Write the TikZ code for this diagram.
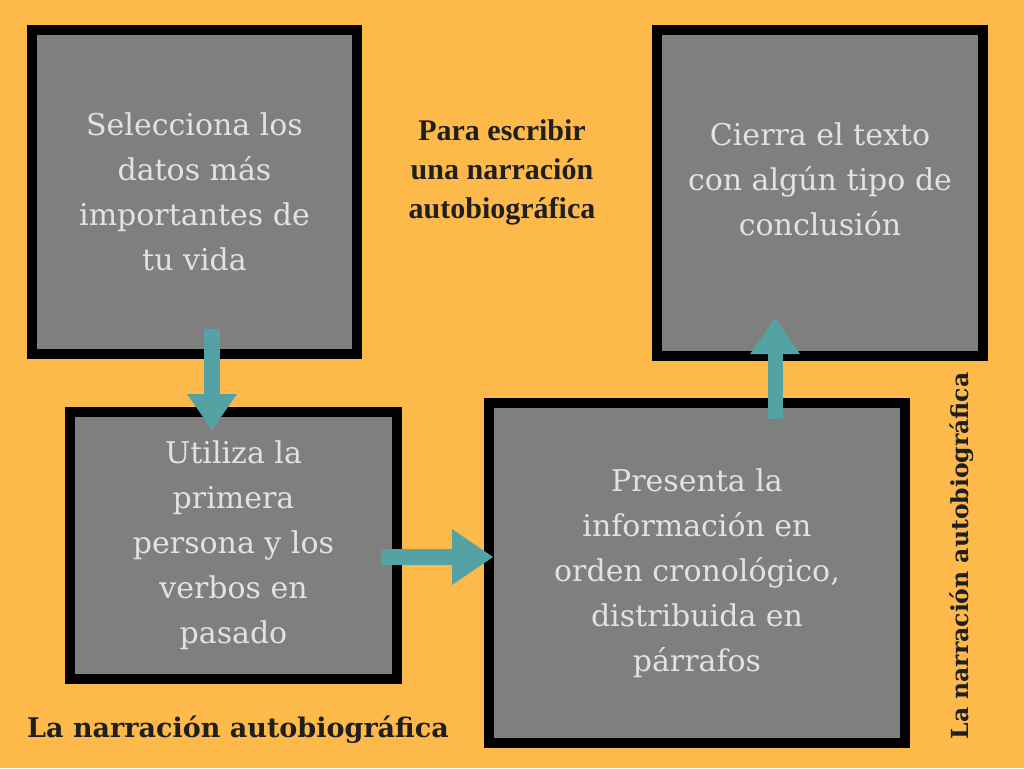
\documentclass[tikz,border=0pt]{standalone}
\usepackage{fontspec}
\setmainfont{DejaVu Serif}
\newfontfamily\titlefont{Liberation Serif}
\newfontfamily\slabfont{DejaVu Serif}
\usetikzlibrary{positioning,arrows.meta}

\definecolor{bgorange}{HTML}{FDB94A}
\definecolor{boxgrey}{HTML}{7F7F7F}
\definecolor{boxtext}{HTML}{E2E2E2}
\definecolor{arrteal}{HTML}{55A2A5}
\definecolor{ink}{HTML}{1F1F1F}

\begin{document}
\begin{tikzpicture}[x=1pt, y=-1pt,
    box/.style={draw=black, line width=10pt, fill=boxgrey, align=center, text=boxtext, font=\fontsize{30}{45}\selectfont},
    arr/.style={draw=arrteal, line width=16pt, -{Triangle[width=50pt,length=36pt,line width=0pt]}},
    title/.style={align=center, text=ink, inner sep=0pt, font=\titlefont\bfseries\fontsize{30}{39}\selectfont},
    tag/.style={text=ink, inner sep=0pt, font=\slabfont\bfseries\fontsize{27}{27}\selectfont}
]
\fill[bgorange] (0,0) rectangle (1024,768);
\node[box, minimum width=325pt, minimum height=324pt] (datos) at (194.5,192) {Selecciona los\\datos más\\importantes de\\tu vida};
\node[box, minimum width=327pt, minimum height=267pt] (persona) at (233.5,545.5) {Utiliza la\\primera\\persona y los\\verbos en\\pasado};
\node[box, minimum width=416pt, minimum height=340pt] (orden) at (697,573) {Presenta la\\información en\\orden cronológico,\\distribuida en\\párrafos};
\node[box, minimum width=326pt, minimum height=326pt, text depth=28pt] (cierre) at (820,193) {Cierra el texto\\con algún tipo de\\conclusión};
\node[title] (titulo) at (502,172) {Para escribir\\una narración\\autobiográfica};
\node[tag, anchor=west] (pie) at (27,730) {La narración autobiográfica};
\node[tag, rotate=90, font=\slabfont\bfseries\fontsize{23.5}{23.5}\selectfont] (lateral) at (962,556) {La narración autobiográfica};
% flechas
\coordinate (d1) at (212,329);
\coordinate (d2) at (212,430);
\coordinate (p1) at (381,557);
\coordinate (p2) at (493,557);
\coordinate (o1) at (775,419);
\coordinate (o2) at (775,318);
\draw[arr] (d1) -- (d2);
\draw[arr, -{Triangle[width=56pt,length=41pt,line width=0pt]}] (p1) -- (p2);
\draw[arr, line width=15pt] (o1) -- (o2);
\end{tikzpicture}
\end{document}
